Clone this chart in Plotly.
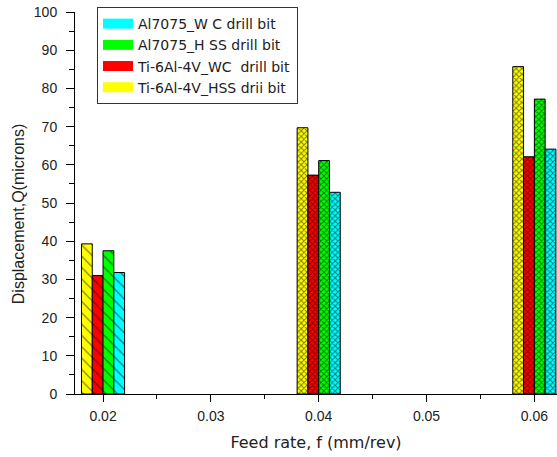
import plotly.graph_objects as go

feed_rates = [0.02, 0.04, 0.06]
ti_hss = [39.3, 69.7, 85.7]
ti_wc = [31.0, 57.3, 62.1]
al_hss = [37.5, 61.1, 77.2]
al_wc = [31.8, 52.8, 64.1]

names = ["Ti-6Al-4V_HSS drii bit", "Ti-6Al-4V_WC  drill bit",
         "Al7075_H SS drill bit", "Al7075_W C drill bit"]
colors = ["#FFFF00", "#FF0000", "#00FF00", "#00FFFF"]
series = [ti_hss, ti_wc, al_hss, al_wc]
shapes = ["\\", "x", "x"]

fig = go.Figure()
for name, col, vals in zip(names, colors, series):
    fig.add_trace(go.Bar(
        x=feed_rates, y=vals, name=name, showlegend=False,
        marker=dict(color=col, line=dict(color="black", width=1),
                    pattern=dict(shape=shapes, fgcolor="black", bgcolor=col,
                                 size=[8, 4, 4], solidity=[0.15, 0.45, 0.45])),
    ))

# legend-only entries with solid wide swatches
for name, col in zip(names, colors):
    fig.add_trace(go.Scatter(
        x=[None], y=[None], name=name, mode="lines",
        line=dict(color=col, width=13),
    ))

font = "Liberation Sans, Arial, sans-serif"
fig.update_layout(
    width=557, height=457,
    margin=dict(l=75, r=0, t=12, b=63),
    paper_bgcolor="white", plot_bgcolor="white",
    barmode="group", bargap=0.8, bargroupgap=0,
    font=dict(family=font, color="#222"),
    legend=dict(x=0.0456, y=1.013, xanchor="left", yanchor="top",
                traceorder="reversed", bordercolor="#333", borderwidth=1,
                bgcolor="white",
                font=dict(family="DejaVu Sans, sans-serif", size=14, color="#222"),
                tracegroupgap=0),
    xaxis=dict(range=[0.0174, 0.0621], tickvals=[0.02, 0.03, 0.04, 0.05, 0.06],
               ticktext=["0.02", "0.03", "0.04", "0.05", "0.06"],
               showgrid=False, zeroline=False, showline=True, linecolor="black",
               ticks="outside", ticklen=7, tickcolor="black", ticklabelstandoff=2,
               minor=dict(dtick=0.005, tick0=0, ticks="outside", ticklen=4, tickcolor="black"),
               tickfont=dict(size=14, color="#222"),
               title=dict(text="Feed rate, f (mm/rev)",
                          font=dict(family="DejaVu Sans, sans-serif", size=16, color="#222"),
                          standoff=14)),
    yaxis=dict(range=[0, 100], dtick=10, showgrid=False, zeroline=False,
               showline=True, linecolor="black", ticks="outside", ticklen=8,
               tickcolor="black", ticklabelstandoff=6,
               minor=dict(dtick=5, ticks="outside", ticklen=5, tickcolor="black"),
               tickfont=dict(size=14, color="#222")),
    annotations=[dict(text="Displacement,Q(microns)", textangle=-90,
                      xref="paper", yref="paper", x=-0.118, y=0.471,
                      xanchor="center", yanchor="middle", showarrow=False,
                      font=dict(family=font, size=16, color="#222"))],
)

fig.write_html("out.html")
